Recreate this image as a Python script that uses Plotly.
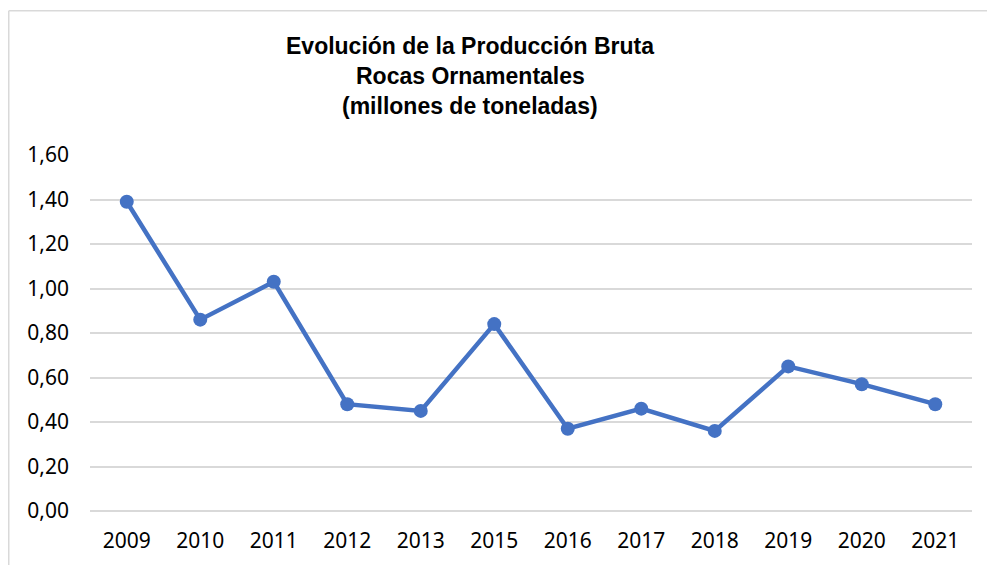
import plotly.graph_objects as go

years = ["2009", "2010", "2011", "2012", "2013", "2015", "2016", "2017", "2018", "2019", "2020", "2021"]
values = [1.39, 0.86, 1.03, 0.48, 0.45, 0.84, 0.37, 0.46, 0.36, 0.65, 0.57, 0.48]
title_lines = ["Evolución de la Producción Bruta", "Rocas Ornamentales", "(millones de toneladas)"]
y_ticks = [0, 0.2, 0.4, 0.6, 0.8, 1.0, 1.2, 1.4, 1.6]

W, H = 987, 565
L, R, T, B = 90, 15, 155, 54
pw, ph = W - L - R, H - T - B

fig = go.Figure()
fig.add_trace(go.Scatter(
    x=years, y=values, mode="lines+markers",
    line=dict(color="#4472C4", width=4.5),
    marker=dict(color="#4472C4", size=14),
    hoverinfo="x+y",
))

def px_x(px):
    return (px - L) / pw

def px_y(py):
    return (H - B - py) / ph

ann = []
for t, cy in zip(title_lines, [46, 76, 106]):
    ann.append(dict(text="<b>%s</b>" % t, xref="paper", yref="paper",
                    x=px_x(470), y=px_y(cy),
                    xanchor="center", yanchor="middle", showarrow=False,
                    font=dict(family="Liberation Sans, Arial", size=23, color="#000000")))

bx = px_x(8.75)
by = px_y(10.75)
shapes = [
    dict(type="line", xref="paper", yref="paper", x0=bx, x1=bx, y0=-1, y1=by,
         line=dict(color="#D9D9D9", width=1.5)),
    dict(type="line", xref="paper", yref="paper", x0=bx, x1=1.5, y0=by, y1=by,
         line=dict(color="#D9D9D9", width=1.5)),
]

fig.update_layout(
    width=W, height=H,
    margin=dict(l=L, r=R, t=T, b=B, pad=0),
    paper_bgcolor="white", plot_bgcolor="white",
    separators=",.",
    showlegend=False,
    annotations=ann,
    shapes=shapes,
    font=dict(family="Noto Sans", size=21, color="#000000"),
    xaxis=dict(type="category", range=[-0.5, 11.5], showgrid=False, showline=False,
               zeroline=False, ticks="", ticklabelstandoff=15, automargin=False,
               tickfont=dict(family="Noto Sans", size=21, color="#000000")),
    yaxis=dict(range=[0, 1.6], tickvals=y_ticks, tickformat=".2f", showgrid=True,
               gridcolor="#D9D9D9", gridwidth=1.5, zeroline=True, zerolinecolor="#D9D9D9",
               zerolinewidth=1.5, showline=False, ticks="", ticklabelstandoff=20,
               automargin=False,
               tickfont=dict(family="Noto Sans", size=21, color="#000000")),
)

fig.write_html(
    "out.html",
    config={"displayModeBar": False},
    post_script="document.body.style.margin='0';document.body.style.overflow='hidden';",
)
